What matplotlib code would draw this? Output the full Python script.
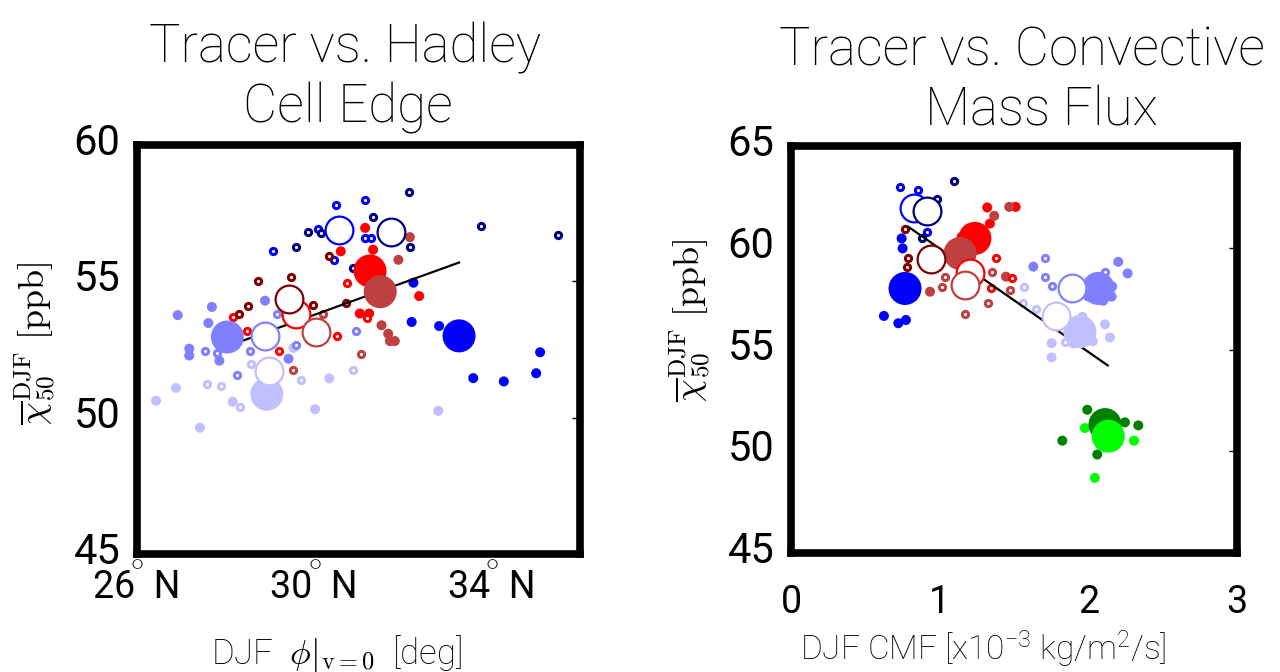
import matplotlib
matplotlib.use("Agg")
import matplotlib.pyplot as plt
from matplotlib.transforms import ScaledTranslation

plt.rcParams['font.family'] = ['Roboto', 'DejaVu Sans']
plt.rcParams['mathtext.fontset'] = 'cm'
plt.rcParams['mathtext.rm'] = 'Roboto:light'
plt.rcParams['mathtext.it'] = 'Roboto:italic:light'
plt.rcParams['mathtext.bf'] = 'Roboto:bold'
plt.rcParams['mathtext.sf'] = 'Roboto:light'

# ---------------------------------------------------------------------------
# Left panel: tracer vs. Hadley cell edge latitude (deg N)
# ---------------------------------------------------------------------------
HC_FILLED_BLUE_X = [32.24, 32.20, 32.82, 35.10, 33.59, 34.28, 35.01]
HC_FILLED_BLUE_Y = [54.95, 53.51, 53.36, 52.40, 51.45, 51.33, 51.63]
HC_FILLED_LBLUE_X = [26.92, 27.69, 27.61, 28.89, 27.18, 27.18, 27.86, 29.42]
HC_FILLED_LBLUE_Y = [53.76, 54.06, 53.47, 54.29, 52.53, 52.28, 52.09, 52.16]
HC_FILLED_PBLUE_X = [26.43, 26.88, 27.42, 28.16, 30.02, 30.34, 32.80, 29.53]
HC_FILLED_PBLUE_Y = [50.62, 51.09, 49.63, 50.58, 50.31, 51.44, 50.25, 52.56]
HC_FILLED_RED_X = [31.15, 30.60, 31.33, 32.37, 31.03, 31.24]
HC_FILLED_RED_Y = [56.96, 56.10, 56.16, 54.46, 53.82, 53.82]
HC_FILLED_BROWN_X = [32.16, 31.90, 31.52, 31.67, 31.82, 31.71]
HC_FILLED_BROWN_Y = [56.62, 55.79, 53.39, 53.08, 52.81, 52.81]

HC_OPEN_BLUE_X = [30.49, 31.15, 29.08, 30.08, 31.15, 31.28, 30.45]
HC_OPEN_BLUE_Y = [57.81, 57.97, 56.10, 56.92, 56.58, 56.58, 55.79]
HC_OPEN_NAVY_X = [32.13, 33.76, 35.51, 31.33, 32.16, 29.85, 29.59, 30.15, 30.88]
HC_OPEN_NAVY_Y = [58.28, 57.02, 56.71, 57.37, 56.26, 56.80, 56.25, 56.77, 55.48]
HC_OPEN_LBLUE_X = [27.53, 27.81, 28.54, 28.25, 29.15, 29.59, 30.94]
HC_OPEN_LBLUE_Y = [52.46, 52.38, 52.46, 51.58, 53.79, 52.65, 53.18]
HC_OPEN_PBLUE_X = [27.59, 27.89, 28.33, 28.57, 29.70, 30.87]
HC_OPEN_PBLUE_Y = [51.23, 51.15, 50.40, 51.97, 51.38, 51.75]
HC_OPEN_RED_X = [30.73, 31.20, 30.52, 29.21, 28.48, 28.16]
HC_OPEN_RED_Y = [54.93, 53.67, 53.00, 52.46, 53.18, 53.70]
HC_OPEN_DRED_X = [28.74, 29.48, 28.51, 28.31, 30.33, 30.72, 29.98]
HC_OPEN_DRED_Y = [55.03, 55.15, 54.09, 53.82, 55.94, 54.19, 54.15]
HC_OPEN_BROWN_X = [30.19, 31.05, 29.53]
HC_OPEN_BROWN_Y = [53.82, 52.32, 51.76]

# ensemble means (filled: blue, lblue, pblue, red, brown)
HC_MEAN_FILLED_X = [33.27, 28.04, 28.93, 31.26, 31.49]
HC_MEAN_FILLED_Y = [53.00, 52.96, 50.86, 55.38, 54.62]
# ensemble means (open: blue, navy, lblue, pblue, red, dred, brown)
HC_MEAN_OPEN_X = [30.55, 31.73, 28.89, 28.99, 29.59, 29.42, 30.04]
HC_MEAN_OPEN_Y = [56.87, 56.80, 52.98, 51.72, 53.82, 54.37, 53.14]

HC_FIT_X = [28.40, 33.27]
HC_FIT_Y = [52.83, 55.69]

HC_XTICKS = [26, 30, 34]
HC_XTICKLABELS = ["$^{\\circ}$\n26  N", "$^{\\circ}$\n30  N", "$^{\\circ}$\n34  N"]
HC_YTICKS = [45, 50, 55, 60]

# ---------------------------------------------------------------------------
# Right panel: tracer vs. convective mass flux (1e-3 kg/m2/s)
# ---------------------------------------------------------------------------
CMF_FILLED_BLUE_X = [0.744, 0.751, 0.625, 0.722, 0.773, 0.70, 0.82, 0.80, 0.72]
CMF_FILLED_BLUE_Y = [60.46, 59.97, 56.65, 56.29, 56.45, 57.9, 57.6, 58.4, 58.3]
CMF_FILLED_LBLUE_X = [1.630, 2.201, 2.264, 2.157, 2.03, 2.12, 2.00, 2.10, 2.16]
CMF_FILLED_LBLUE_Y = [59.07, 59.31, 58.74, 57.60, 58.4, 58.3, 57.6, 57.4, 58.1]
CMF_FILLED_PBLUE_X = [1.753, 1.753, 2.112, 2.145, 1.96, 2.03, 1.90]
CMF_FILLED_PBLUE_Y = [55.31, 54.61, 56.24, 55.59, 56.6, 55.4, 55.3]
CMF_FILLED_RED_X = [1.320, 1.511, 1.192, 1.282, 1.338, 1.148]
CMF_FILLED_RED_Y = [61.98, 62.01, 60.92, 60.21, 61.19, 60.54]
CMF_FILLED_BROWN_X = [1.468, 1.367, 0.935, 1.446]
CMF_FILLED_BROWN_Y = [62.01, 61.57, 57.84, 58.58]
CMF_FILLED_DGREEN_X = [1.993, 2.246, 2.336, 1.825, 2.060]
CMF_FILLED_DGREEN_Y = [52.04, 51.42, 51.27, 50.52, 49.84]
CMF_FILLED_LIME_X = [1.977, 2.307, 2.044]
CMF_FILLED_LIME_Y = [51.14, 50.52, 48.69]

CMF_OPEN_BLUE_X = [0.733, 0.856, 0.912]
CMF_OPEN_BLUE_Y = [62.99, 62.83, 60.78]
CMF_OPEN_NAVY_X = [1.099, 0.879, 0.980]
CMF_OPEN_NAVY_Y = [63.27, 60.46, 62.42]
CMF_OPEN_LBLUE_X = [1.708, 1.708, 1.753, 2.112]
CMF_OPEN_LBLUE_Y = [59.51, 58.58, 58.14, 58.82]
CMF_OPEN_PBLUE_X = [1.569, 1.558, 1.645, 1.843]
CMF_OPEN_PBLUE_Y = [58.09, 57.30, 56.99, 55.39]
CMF_OPEN_RED_X = [1.376, 1.488, 1.343]
CMF_OPEN_RED_Y = [59.48, 58.53, 58.00]
CMF_OPEN_DRED_X = [0.767, 0.789, 0.778]
CMF_OPEN_DRED_Y = [60.92, 59.51, 59.07]
CMF_OPEN_BROWN_X = [1.036, 1.018, 1.170, 1.327, 1.350, 1.473]
CMF_OPEN_BROWN_Y = [58.58, 58.09, 56.75, 57.27, 58.82, 57.93]

# ensemble means (filled: blue, lblue, pblue, red, brown, dgreen, lime)
CMF_MEAN_FILLED_X = [0.767, 2.067, 1.943, 1.237, 1.137, 2.112, 2.134]
CMF_MEAN_FILLED_Y = [58.00, 58.00, 55.88, 60.46, 59.72, 51.31, 50.74]
# ensemble means (open: blue, navy, lblue, pblue, red, dred, brown)
CMF_MEAN_OPEN_X = [0.829, 0.912, 1.888, 1.782, 1.204, 0.941, 1.170]
CMF_MEAN_OPEN_Y = [61.96, 61.80, 58.00, 56.67, 58.74, 59.45, 58.17]

CMF_FIT_X = [0.789, 2.130]
CMF_FIT_Y = [61.03, 54.22]

CMF_XTICKS = [0, 1, 2, 3]
CMF_YTICKS = [45, 50, 55, 60, 65]

# ---------------------------------------------------------------------------
COLORS = {
    'blue': '#0000ff', 'navy': '#000080', 'lblue': '#8080ff', 'pblue': '#c0c0ff',
    'red': '#ff0000', 'dred': '#800000', 'brown': '#bf4040',
    'dgreen': '#008000', 'lime': '#00ff00',
}
FILLED_ORDER = ['blue', 'lblue', 'pblue', 'red', 'brown', 'dgreen', 'lime']
OPEN_ORDER = ['blue', 'navy', 'lblue', 'pblue', 'red', 'dred', 'brown']

W, H = 1280, 672
fig = plt.figure(figsize=(W / 100, H / 100), dpi=100)


def px_axes(left, top, right, bottom):
    return fig.add_axes([left / W, 1 - bottom / H, (right - left) / W, (bottom - top) / H])


def draw_panel(ax, filled, opened, mean_f, mean_o, fit):
    for key in FILLED_ORDER:
        if key in filled:
            x, y = filled[key]
            ax.scatter(x, y, s=52, c=COLORS[key], edgecolors='none', zorder=2)
    for key in OPEN_ORDER:
        if key in opened:
            x, y = opened[key]
            ax.scatter(x, y, s=20, facecolors='white', edgecolors=COLORS[key],
                       linewidths=2.2, zorder=3)
    ax.plot(fit[0], fit[1], color='black', lw=1.6, zorder=4)
    fx, fy = mean_f
    keys_f = [k for k in FILLED_ORDER if k in filled]
    for k, xi, yi in zip(keys_f, fx, fy):
        ax.scatter([xi], [yi], s=565, c=COLORS[k], edgecolors='none', zorder=5)
    ox, oy = mean_o
    for k, xi, yi in zip(OPEN_ORDER, ox, oy):
        ax.scatter([xi], [yi], s=400, facecolors='white', edgecolors=COLORS[k],
                   linewidths=1.6, zorder=6)


def style_axes(ax, xpad):
    for sp in ax.spines.values():
        sp.set_linewidth(5.5)
        sp.set_color('black')
        sp.set_zorder(10)
    ax.tick_params(axis='y', left=False, right=True, direction='in', length=6,
                   width=1, labelsize=30, pad=12)
    ax.tick_params(axis='x', bottom=False, top=False, labelsize=27, pad=xpad)
    # y tick labels sit a few pixels above their ticks
    lift = ScaledTranslation(0, 6 / 100, fig.dpi_scale_trans)
    for lab in ax.get_yticklabels():
        lab.set_transform(lab.get_transform() + lift)


# ---- left panel
ax1 = px_axes(137, 145, 580, 554)
draw_panel(
    ax1,
    {'blue': (HC_FILLED_BLUE_X, HC_FILLED_BLUE_Y),
     'lblue': (HC_FILLED_LBLUE_X, HC_FILLED_LBLUE_Y),
     'pblue': (HC_FILLED_PBLUE_X, HC_FILLED_PBLUE_Y),
     'red': (HC_FILLED_RED_X, HC_FILLED_RED_Y),
     'brown': (HC_FILLED_BROWN_X, HC_FILLED_BROWN_Y)},
    {'blue': (HC_OPEN_BLUE_X, HC_OPEN_BLUE_Y),
     'navy': (HC_OPEN_NAVY_X, HC_OPEN_NAVY_Y),
     'lblue': (HC_OPEN_LBLUE_X, HC_OPEN_LBLUE_Y),
     'pblue': (HC_OPEN_PBLUE_X, HC_OPEN_PBLUE_Y),
     'red': (HC_OPEN_RED_X, HC_OPEN_RED_Y),
     'dred': (HC_OPEN_DRED_X, HC_OPEN_DRED_Y),
     'brown': (HC_OPEN_BROWN_X, HC_OPEN_BROWN_Y)},
    (HC_MEAN_FILLED_X, HC_MEAN_FILLED_Y),
    (HC_MEAN_OPEN_X, HC_MEAN_OPEN_Y),
    (HC_FIT_X, HC_FIT_Y),
)
ax1.set_xlim(26, 36)
ax1.set_ylim(45, 60)
ax1.set_xticks(HC_XTICKS, HC_XTICKLABELS)
ax1.set_yticks(HC_YTICKS)
style_axes(ax1, -3)
for lab in ax1.get_xticklabels():
    lab.set_linespacing(0.23)

# ---- right panel
ax2 = px_axes(791, 146, 1237, 553)
draw_panel(
    ax2,
    {'blue': (CMF_FILLED_BLUE_X, CMF_FILLED_BLUE_Y),
     'lblue': (CMF_FILLED_LBLUE_X, CMF_FILLED_LBLUE_Y),
     'pblue': (CMF_FILLED_PBLUE_X, CMF_FILLED_PBLUE_Y),
     'red': (CMF_FILLED_RED_X, CMF_FILLED_RED_Y),
     'brown': (CMF_FILLED_BROWN_X, CMF_FILLED_BROWN_Y),
     'dgreen': (CMF_FILLED_DGREEN_X, CMF_FILLED_DGREEN_Y),
     'lime': (CMF_FILLED_LIME_X, CMF_FILLED_LIME_Y)},
    {'blue': (CMF_OPEN_BLUE_X, CMF_OPEN_BLUE_Y),
     'navy': (CMF_OPEN_NAVY_X, CMF_OPEN_NAVY_Y),
     'lblue': (CMF_OPEN_LBLUE_X, CMF_OPEN_LBLUE_Y),
     'pblue': (CMF_OPEN_PBLUE_X, CMF_OPEN_PBLUE_Y),
     'red': (CMF_OPEN_RED_X, CMF_OPEN_RED_Y),
     'dred': (CMF_OPEN_DRED_X, CMF_OPEN_DRED_Y),
     'brown': (CMF_OPEN_BROWN_X, CMF_OPEN_BROWN_Y)},
    (CMF_MEAN_FILLED_X, CMF_MEAN_FILLED_Y),
    (CMF_MEAN_OPEN_X, CMF_MEAN_OPEN_Y),
    (CMF_FIT_X, CMF_FIT_Y),
)
ax2.set_xlim(0, 3)
ax2.set_ylim(45, 65)
ax2.set_xticks(CMF_XTICKS)
ax2.set_yticks(CMF_YTICKS)
style_axes(ax2, 19)


# ---- titles
def fig_text(xp, yp, s, **kw):
    return fig.text(xp / W, 1 - yp / H, s, **kw)


title_kw = dict(fontsize=38, fontweight='light', ha='center', va='baseline')
fig_text(345, 63, "Tracer vs. Hadley", **title_kw)
fig_text(348, 122, "Cell Edge", **title_kw)
fig_text(1022, 65, "Tracer vs. Convective", **title_kw)
fig_text(1041, 125, "Mass Flux", **title_kw)

# ---- axis labels
fig_text(337, 663, r"DJF  $\phi|_{\mathrm{v=0}}$  [deg]", fontsize=25,
         fontweight='light', ha='center', va='baseline')
fig_text(983, 660, r"DJF CMF [x10$^{-3}$ kg/m$^{2}$/s]", fontsize=24,
         fontweight='light', ha='center', va='baseline', math_fontfamily='custom')

ylab = r"$\overline{\chi}_{50}^{\mathrm{DJF}}\ \mathrm{[ppb]}$"
fig_text(35, 343, ylab, fontsize=26, rotation=90, ha='center', va='center')
fig_text(690, 320, ylab, fontsize=26, rotation=90, ha='center', va='center')

fig.savefig("out.png", dpi=100)
